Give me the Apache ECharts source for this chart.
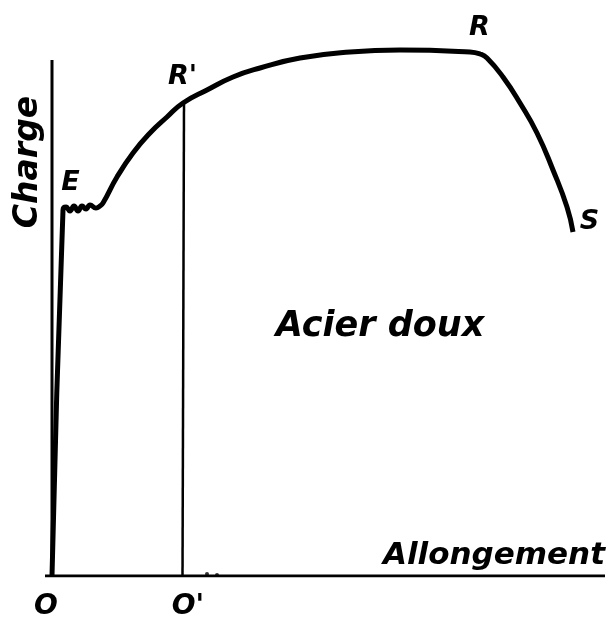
<!DOCTYPE html>
<html>
<head>
<meta charset="utf-8">
<script src="https://cdn.jsdelivr.net/npm/echarts@6/dist/echarts.min.js"></script>
<style>
  html, body { margin: 0; padding: 0; background: #fff; }
  #chart { width: 612px; height: 623px; }
</style>
</head>
<body>
<div id="chart"></div>
<script>
// courbe de traction, acier doux (unites arbitraires)
var allongement = [0, 1.1, 1.4, 1.8, 2.2, 2.6, 3.0, 3.4, 3.8, 4.4, 4.8, 5.1, 6.5, 8.1, 9.8, 11.5, 13.1, 15.5, 18.1, 20.8, 24.8, 29.8, 34.8, 41.8, 42.8, 43.5, 45.1, 46.8, 48.5, 50.1, 51.5, 52.1];
var charge = [0, 36.6, 36.9, 36.5, 37.0, 36.5, 37.0, 36.7, 37.1, 36.8, 37.0, 37.3, 39.9, 42.3, 44.3, 45.9, 47.3, 48.6, 49.9, 50.8, 51.8, 52.4, 52.6, 52.4, 52.2, 51.8, 49.9, 47.3, 44.3, 40.6, 36.9, 34.4];
// points remarquables
var pointNames = ["E", "R'", "R", "S"];
var pointX = [1.9, 13.1, 42.8, 53.8];
var pointY = [39.3, 49.9, 54.8, 35.4];
// petites marques pres de O'
var dotsX = [15.5, 16.5];
var dotsY = [0.2, 0.1];
var residuelX = 13.2; // abscisse de O'
var residuelY = 47.4; // charge en R'

var font = "'DejaVu Sans', sans-serif";

function zip(a, b) {
  var out = [];
  for (var i = 0; i < a.length; i++) out.push([a[i], b[i]]);
  return out;
}

var chart = echarts.init(document.getElementById("chart"));
var option = {
  backgroundColor: "#fff",
  animation: false,
  grid: { left: 2, right: 0, top: 0, bottom: 47 },
  xAxis: { type: "value", min: -5, max: 56, show: false },
  yAxis: { type: "value", min: 0, max: 57.6, show: false },
  series: [
    {
      // axe des charges
      type: "line", symbol: "none",
      data: [[0, 0], [0, 51.6]],
      lineStyle: { color: "#000", width: 3 }
    },
    {
      // axe des allongements
      type: "line", symbol: "none",
      data: [[-0.7, 0], [55.3, 0]],
      lineStyle: { color: "#000", width: 3 }
    },
    {
      // R' -> O'
      type: "line", symbol: "none",
      data: [[residuelX, residuelY], [residuelX - 0.15, 0]],
      lineStyle: { color: "#000", width: 2.5 }
    },
    {
      type: "line", symbol: "none", smooth: 0.5,
      data: zip(allongement, charge),
      lineStyle: { color: "#000", width: 5 }
    },
    {
      type: "scatter", symbolSize: 4,
      data: zip(dotsX, dotsY),
      itemStyle: { color: "#000" }
    },
    {
      type: "scatter", symbolSize: 1,
      data: zip(pointX, pointY).map(function (p, i) { return { value: p, name: pointNames[i] }; }),
      itemStyle: { color: "#fff", opacity: 0 },
      label: {
        show: true, position: [0, 0], align: "center", verticalAlign: "middle",
        formatter: "{b}",
        fontFamily: font, fontStyle: "italic", fontWeight: "bold",
        fontSize: 27, color: "#000", opacity: 1
      }
    }
  ],
  graphic: [
    {
      type: "text", x: 28, y: 162, rotation: Math.PI / 2,
      style: {
        text: "Charge", fontFamily: font, fontStyle: "italic", fontWeight: "bold",
        fontSize: 33, fill: "#000", align: "center", verticalAlign: "middle"
      }
    },
    {
      type: "text", x: 380, y: 327,
      style: {
        text: "Acier doux", fontFamily: font, fontStyle: "italic", fontWeight: "bold",
        fontSize: 35, fill: "#000", align: "center", verticalAlign: "middle"
      }
    },
    {
      type: "text", x: 605, y: 556,
      style: {
        text: "Allongement", fontFamily: font, fontStyle: "italic", fontWeight: "bold",
        fontSize: 31, fill: "#000", align: "right", verticalAlign: "middle"
      }
    },
    {
      type: "text", x: 46, y: 607,
      style: {
        text: "O", fontFamily: font, fontStyle: "italic", fontWeight: "bold",
        fontSize: 28, fill: "#000", align: "center", verticalAlign: "middle"
      }
    },
    {
      type: "text", x: 188, y: 607,
      style: {
        text: "O'", fontFamily: font, fontStyle: "italic", fontWeight: "bold",
        fontSize: 28, fill: "#000", align: "center", verticalAlign: "middle"
      }
    }
  ]
};
chart.setOption(option);
</script>
</body>
</html>
